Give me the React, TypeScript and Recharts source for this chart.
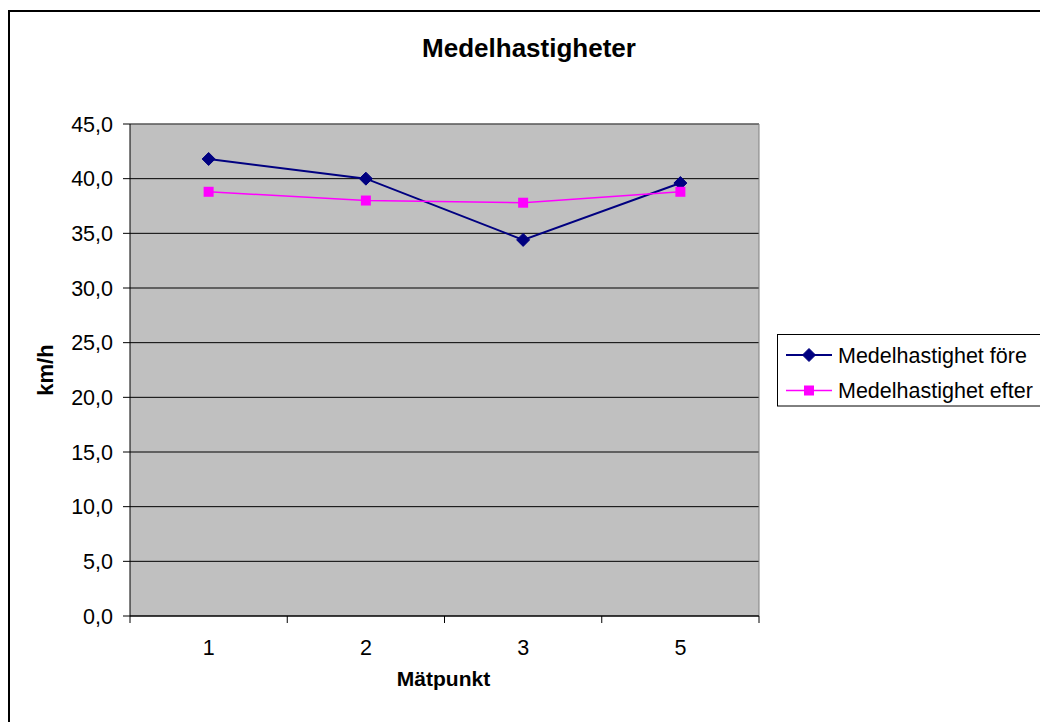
import React from "react"
import { LineChart, Line, XAxis, YAxis, CartesianGrid, Legend, ReferenceLine } from "recharts"

// Mean speeds per measuring point, before and after
const categories = ["1", "2", "3", "5"]
const foreValues = [41.8, 40.0, 34.4, 39.6]
const efterValues = [38.8, 38.0, 37.8, 38.8]
const yTicks = [0, 5, 10, 15, 20, 25, 30, 35, 40, 45]

const FONT = "'Liberation Sans', Arial, sans-serif"
const NAVY = "#000080"
const MAGENTA = "#FF00FF"

const data = categories.map((label, i) => ({
  pos: i + 1,
  label,
  fore: foreValues[i],
  efter: efterValues[i],
}))

// ticks at category centres carry labels, ticks at half steps are the separators
const xTicks = [0.5, 1, 1.5, 2, 2.5, 3, 3.5, 4, 4.5]

const fmt = (v: number) => v.toFixed(1).replace(".", ",")

function XTick({ x, y, payload }: any) {
  const v = payload.value
  if (Number.isInteger(v)) {
    return (
      <text x={x} y={y + 39} textAnchor="middle" fontSize={21.5} fontFamily={FONT} fill="#000">
        {categories[v - 1]}
      </text>
    )
  }
  return <line x1={x} x2={x} y1={y} y2={y + 7} stroke="#000" strokeWidth={1} />
}

function Diamond({ cx, cy }: any) {
  if (cx == null || cy == null) return null
  const r = 6.5
  return <path d={`M${cx},${cy - r}L${cx + r},${cy}L${cx},${cy + r}L${cx - r},${cy}Z`} fill={NAVY} stroke={NAVY} />
}

function Square({ cx, cy }: any) {
  if (cx == null || cy == null) return null
  const s = 10
  return <rect x={cx - s / 2} y={cy - s / 2} width={s} height={s} fill={MAGENTA} />
}

function LegendBox() {
  const rows = [
    { name: "Medelhastighet före", color: NAVY, shape: "diamond", y: 21, w: 2 },
    { name: "Medelhastighet efter", color: MAGENTA, shape: "square", y: 56.5, w: 1.5 },
  ]
  return (
    <svg width={300} height={73} style={{ display: "block" }}>
      <rect x={0.5} y={0.5} width={298} height={71.5} fill="#fff" stroke="#000" strokeWidth={1} />
      {rows.map((r) => (
        <g key={r.name}>
          <line x1={9} x2={55} y1={r.y} y2={r.y} stroke={r.color} strokeWidth={r.w} />
          {r.shape === "diamond" ? (
            <Diamond cx={32} cy={r.y} />
          ) : (
            <Square cx={32} cy={r.y} />
          )}
          <text x={61} y={r.y + 7.7} fontSize={21.5} fontFamily={FONT} fill="#000">
            {r.name}
          </text>
        </g>
      ))}
    </svg>
  )
}

export default function App() {
  return (
    <div
      style={{
        position: "fixed",
        left: 0,
        top: 0,
        width: 1040,
        height: 722,
        overflow: "hidden",
        background: "#fff",
      }}
    >
      <div style={{ position: "absolute", left: 8, top: 8, width: 1032, height: 714 }}>
        {/* chart frame: only its top and left edges fall inside the page */}
        <div style={{ position: "absolute", left: 0, top: 2, width: 1032, height: 2, background: "#000" }} />
        <div style={{ position: "absolute", left: 0, top: 2, width: 2, height: 712, background: "#000" }} />
        <LineChart
          width={1032}
          height={714}
          data={data}
          margin={{ top: 116, right: 281, bottom: 66, left: 62 }}
          style={{ position: "absolute", left: 0, top: 0 }}
        >
          <CartesianGrid fill="#C0C0C0" stroke="#000" vertical={false} strokeOpacity={1} />
          <CartesianGrid
            horizontal={false}
            stroke="#808080"
            verticalCoordinatesGenerator={({ offset }: any) => [offset.left + offset.width]}
          />
          <ReferenceLine y={45} stroke="#808080" />
          <XAxis
            dataKey="pos"
            type="number"
            domain={[0.5, 4.5]}
            ticks={xTicks}
            interval={0}
            tickLine={false}
            tickSize={0}
            tickMargin={0}
            tick={<XTick />}
            axisLine={{ stroke: "#000" }}
            height={40}
          />
          <YAxis
            type="number"
            domain={[0, 45]}
            ticks={yTicks}
            interval={0}
            width={60}
            tickFormatter={fmt}
            tickSize={7}
            tickMargin={10}
            tickLine={{ stroke: "#000" }}
            axisLine={{ stroke: "#000" }}
            tick={{ fill: "#000", fontSize: 21.5, fontFamily: FONT }}
          />
          <Legend
            layout="horizontal"
            align="center"
            verticalAlign="middle"
            wrapperStyle={{ left: 769, top: 326, width: 300 }}
            content={() => <LegendBox />}
          />
          <Line
            type="linear"
            dataKey="fore"
            name="Medelhastighet före"
            stroke={NAVY}
            strokeWidth={2}
            dot={<Diamond />}
            activeDot={false}
            isAnimationActive={false}
          />
          <Line
            type="linear"
            dataKey="efter"
            name="Medelhastighet efter"
            stroke={MAGENTA}
            strokeWidth={1.5}
            dot={<Square />}
            activeDot={false}
            isAnimationActive={false}
          />
        </LineChart>
        <svg
          width={1032}
          height={714}
          style={{ position: "absolute", left: 0, top: 0, pointerEvents: "none" }}
        >
          <text x={521} y={49} textAnchor="middle" fontSize={26} fontWeight="bold" fontFamily={FONT} fill="#000">
            Medelhastigheter
          </text>
          <text
            x={45}
            y={362}
            textAnchor="middle"
            fontSize={22}
            fontWeight="bold"
            fontFamily={FONT}
            fill="#000"
            transform="rotate(-90, 45, 362)"
          >
            km/h
          </text>
          <text x={435.5} y={678} textAnchor="middle" fontSize={21} fontWeight="bold" fontFamily={FONT} fill="#000">
            Mätpunkt
          </text>
        </svg>
      </div>
    </div>
  )
}
